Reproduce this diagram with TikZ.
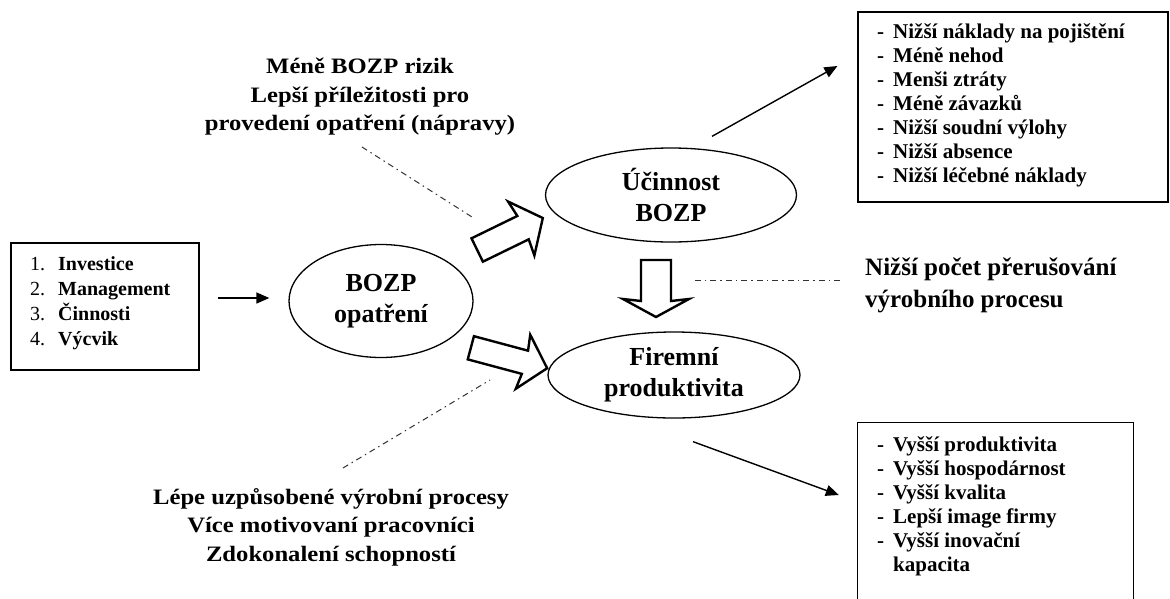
\documentclass[tikz,border=0pt]{standalone}
\usepackage{fontspec}
\setmainfont{Liberation Serif}
\newfontfamily\widefont{Liberation Serif}[FakeStretch=1.12]
\usetikzlibrary{arrows.meta,shapes.geometric}
\tikzset{
  box/.style={draw, line width=1.2pt, inner sep=0pt},
  oval/.style={ellipse, draw, line width=1.3pt, inner sep=0pt, align=center,
    font=\bfseries\fontsize{26pt}{31pt}\selectfont},
  listtext/.style={inner sep=0pt, align=left, anchor=west,
    font=\bfseries\fontsize{21pt}{24pt}\selectfont},
  note/.style={inner sep=0pt, align=center,
    font=\widefont\bfseries\fontsize{22pt}{28.5pt}\selectfont},
  arr/.style={line width=1.4pt, -{Triangle[length=13pt,width=11pt]}},
  dashdot/.style={line width=1pt, black!80, dash pattern=on 6pt off 4pt on 1.5pt off 4pt},
  blk/.style={draw, line width=2.4pt, fill=white, line join=miter}
}
\newcommand\fatarrow[5]{% length, shaft half, head half, head length
  \path[blk] (-#1/2,#2) -- (#1/2-#4,#2) -- (#1/2-#4-2pt,#3) -- (#1/2,0pt)
    -- (#1/2-#4-2pt,-#3) -- (#1/2-#4,-#2) -- (-#1/2,-#2) -- cycle;}
\begin{document}
\begin{tikzpicture}[x=1pt,y=-1pt]
\useasboundingbox[fill=white] (0,0) rectangle (1170,598);

% left input box
\node[box, minimum width=188pt, minimum height=127pt] (inputs) at (105,306.5) {};
\node[inner sep=0pt, anchor=west, align=left,
  font=\bfseries\fontsize{20pt}{25pt}\selectfont] (inputtext) at (30,303)
  {\makebox[28pt][l]{\mdseries 1.}Investice\\
   \makebox[28pt][l]{\mdseries 2.}Management\\
   \makebox[28pt][l]{\mdseries 3.}Činnosti\\
   \makebox[28pt][l]{\mdseries 4.}Výcvik};

% ellipses
\node[oval, minimum width=184pt, minimum height=113pt] (bozp) at (381,301) {BOZP\\opatření};
\node[oval, minimum width=251pt, minimum height=94pt] (ucinnost) at (671,195) {Účinnost\\BOZP};
\node[oval, minimum width=252pt, minimum height=86pt] (firemni) at (674,375) {Firemní\\produktivita};

% right boxes
\node[box, minimum width=310pt, minimum height=190pt] (effects) at (1013,107) {};
\node[listtext] (effectstext) at (877,105)
  {\makebox[16pt][l]{-}Nižší náklady na pojištění\\
   \makebox[16pt][l]{-}Méně nehod\\
   \makebox[16pt][l]{-}Menši ztráty\\
   \makebox[16pt][l]{-}Méně závazků\\
   \makebox[16pt][l]{-}Nižší soudní výlohy\\
   \makebox[16pt][l]{-}Nižší absence\\
   \makebox[16pt][l]{-}Nižší léčebné náklady};

\node[inner sep=0pt, minimum width=275pt, minimum height=177pt] (benefits) at (995.5,511.5) {};
\draw[line width=1.2pt] (benefits.south west) -- (benefits.north west)
  -- (benefits.north east) -- (benefits.south east);
\node[listtext] (benefitstext) at (877,506)
  {\makebox[16pt][l]{-}Vyšší produktivita\\
   \makebox[16pt][l]{-}Vyšší hospodárnost\\
   \makebox[16pt][l]{-}Vyšší kvalita\\
   \makebox[16pt][l]{-}Lepší image firmy\\
   \makebox[16pt][l]{-}Vyšší inovační\\
   \hspace*{16pt}kapacita};

% labels
\node[note] (toplabel) at (360,97)
  {Méně BOZP rizik\\Lepší příležitosti pro\\provedení opatření (nápravy)};
\node[note] (botlabel) at (331,527)
  {Lépe uzpůsobené výrobní procesy\\Více motivovaní pracovníci\\Zdokonalení schopností};
\node[inner sep=0pt, anchor=west, align=left,
  font=\bfseries\fontsize{25pt}{32pt}\selectfont] (midlabel) at (865,285)
  {Nižší počet přerušování\\výrobního procesu};

% solid arrows
\draw[arr] ([xshift=18pt,yshift=8.5pt]inputs.east) -- ([xshift=-19pt,yshift=3pt]bozp.west);
\draw[arr] ([xshift=41pt,yshift=11pt]ucinnost.north) -- ([xshift=-20pt,yshift=41pt]effects.west);
\draw[arr] ([xshift=19pt,yshift=-23pt]firemni.south) -- ([xshift=-19pt,yshift=16.5pt]benefits.west);

% dash-dot leader lines
\coordinate (d1a) at (362,147); \coordinate (d1b) at (472,217);
\coordinate (d2a) at (343,468); \coordinate (d2b) at (490,380);
\coordinate (d3a) at (692,280); \coordinate (d3b) at (840,280);
\draw[dashdot] (d1a) -- (d1b);
\draw[dashdot] (d2a) -- (d2b);
\draw[dashdot] (d3b) -- (d3a);

% block arrows
\begin{scope}[shift={(510,234)}, rotate=26]
  \fatarrow{73pt}{13pt}{30pt}{22pt}{}
\end{scope}
\begin{scope}[shift={(509,358)}, rotate=-15]
  \fatarrow{79pt}{12pt}{28pt}{23pt}{}
\end{scope}
\begin{scope}[shift={(656,288.5)}, rotate=-90]
  \fatarrow{57pt}{15pt}{33pt}{16pt}{}
\end{scope}
\end{tikzpicture}
\end{document}
